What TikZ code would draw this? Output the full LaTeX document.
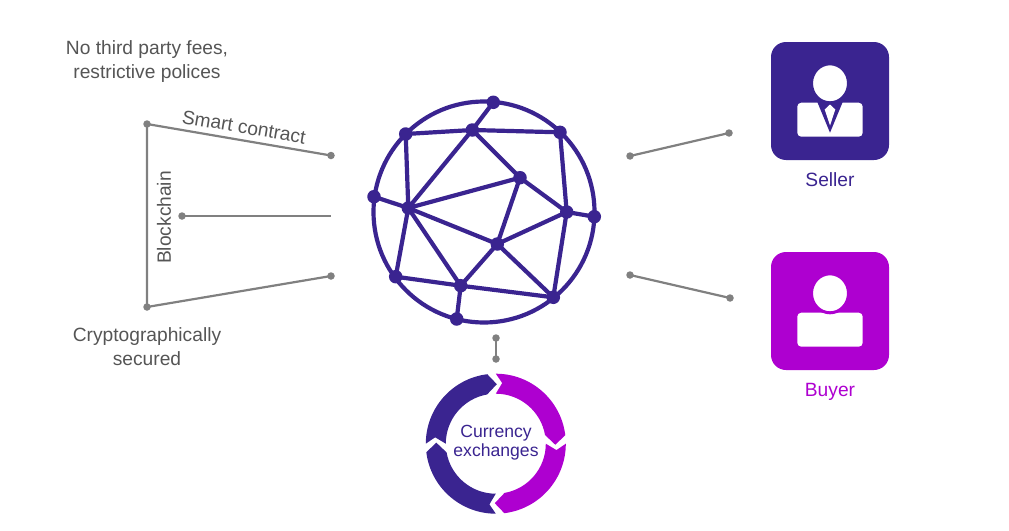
\documentclass[tikz,border=0pt]{standalone}
\usepackage{fontspec}
\setmainfont{Liberation Sans}
\definecolor{indigo}{HTML}{3A2490}
\definecolor{violet}{HTML}{AE00D0}
\definecolor{linegray}{HTML}{808080}
\definecolor{textgray}{HTML}{555555}
\tikzset{
  dot/.style={circle,fill=indigo,inner sep=0pt,minimum size=13.5pt},
  edge/.style={draw=indigo,line width=4.2pt},
  grayline/.style={draw=linegray,line width=2.2pt},
  graydot/.style={circle,fill=linegray,inner sep=0pt,minimum size=7.5pt},
  note/.style={text=textgray,font=\fontsize{19.2}{23.5}\selectfont,align=center,inner sep=0pt},
  tile/.style={rounded corners=15pt},
}
\begin{document}
\begin{tikzpicture}[x=1pt,y=-1pt]
\useasboundingbox (0,0) rectangle (1009,530);
% globe
\node[circle,draw=indigo,line width=4.2pt,inner sep=0pt,minimum size=221pt] (globe) at (484,212) {};
\node[dot] (top) at (493.3,102.3) {};
\node[dot] (a) at (472.3,130) {};
\node[dot] (b) at (405.7,134) {};
\node[dot] (c) at (560,132.3) {};
\node[dot] (d) at (520,177.7) {};
\node[dot] (e) at (566.7,212) {};
\node[dot] (f) at (594.3,216.7) {};
\node[dot] (g) at (374,196.7) {};
\node[dot] (h) at (408.3,208) {};
\node[dot] (i) at (497.3,244) {};
\node[dot] (j) at (395.7,276.7) {};
\node[dot] (k) at (460.7,285.7) {};
\node[dot] (l) at (553.3,297.3) {};
\node[dot] (m) at (456.7,319) {};
\foreach \p/\q in {top/a,a/b,a/c,a/h,a/d,b/h,c/e,d/e,d/h,d/i,e/f,e/i,e/l,g/h,h/i,h/j,h/k,i/k,i/l,j/k,k/l,k/m}
  \draw[edge] (\p.center) -- (\q.center);
% left gray lines
\node[graydot] (ltop) at (147,124) {};
\node[graydot] (lbot) at (147,307) {};
\node[graydot] (lmid) at (182,216) {};
\node[graydot] (rt1) at (331,155.5) {};
\node[graydot] (rt2) at (331,276) {};
\coordinate (rt3) at (331,216);
\draw[grayline] (rt1.center) -- (ltop.center) -- (lbot.center) -- (rt2.center);
\draw[grayline] (lmid.center) -- (rt3);
% right gray lines
\node[graydot] (s1) at (630,156) {};
\node[graydot] (s2) at (729,133) {};
\node[graydot] (b1) at (630,275) {};
\node[graydot] (b2) at (730,298) {};
\draw[grayline] (s1.center) -- (s2.center);
\draw[grayline] (b1.center) -- (b2.center);
% bottom gray
\node[graydot] (x1) at (496,338) {};
\node[graydot] (x2) at (496,359) {};
\draw[grayline] (x1.center) -- (x2.center);
% labels
\node[note] (n1) at (147,61.5) {No third party fees,\\restrictive polices};
\node[note] (n2) at (147,346.5) {Cryptographically\\secured};
\node[note,rotate=-9.7] (n3) at (244,127) {Smart contract};
\node[note,rotate=90] (n4) at (164,217.5) {Blockchain};
% seller
\fill[indigo,tile] (771,42) rectangle (889,160);
\fill[white,rounded corners=4pt] (797.3,102.7) rectangle (862.7,136.7);
\fill[indigo] (817.3,102) -- (830,132.7) -- (842.7,102) -- cycle;
\fill[white] (830,104.5) -- (835.3,109.5) -- (830,125.5) -- (824.7,109.5) -- cycle;
\draw[fill=white,draw=indigo,line width=3pt] (830,83.3) ellipse [x radius=18.5pt,y radius=19.5pt];
\node[text=indigo,font=\fontsize{19.2}{22}\selectfont,inner sep=0pt,anchor=base] (sl) at (830,186) {Seller};
% buyer
\fill[violet,tile] (771,252) rectangle (889,370);
\fill[white,rounded corners=4pt] (797.3,312.7) rectangle (862.7,346.7);
\draw[fill=white,draw=violet,line width=3pt] (830,293.3) ellipse [x radius=18.5pt,y radius=19.5pt];
\node[text=violet,font=\fontsize{19.2}{22}\selectfont,inner sep=0pt,anchor=base] (by) at (830,396) {Buyer};
% ring
\begin{scope}[shift={(495.8,443.7)},x=1pt,y=1pt]
\foreach \r/\col in {0/violet,-90/violet,-180/indigo,-270/indigo}{
  \fill[\col,rotate=\r] (90:70) arc[start angle=90,end angle=7,radius=70pt]
    -- (-1:59.5) -- (10:50) arc[start angle=10,end angle=90,radius=50pt]
    -- (84:61) -- cycle;
}
\end{scope}
\node[text=indigo,font=\fontsize{17.6}{18.5}\selectfont,align=center,inner sep=0pt] (cx) at (496,442.5) {Currency\\exchanges};
\end{tikzpicture}
\end{document}
